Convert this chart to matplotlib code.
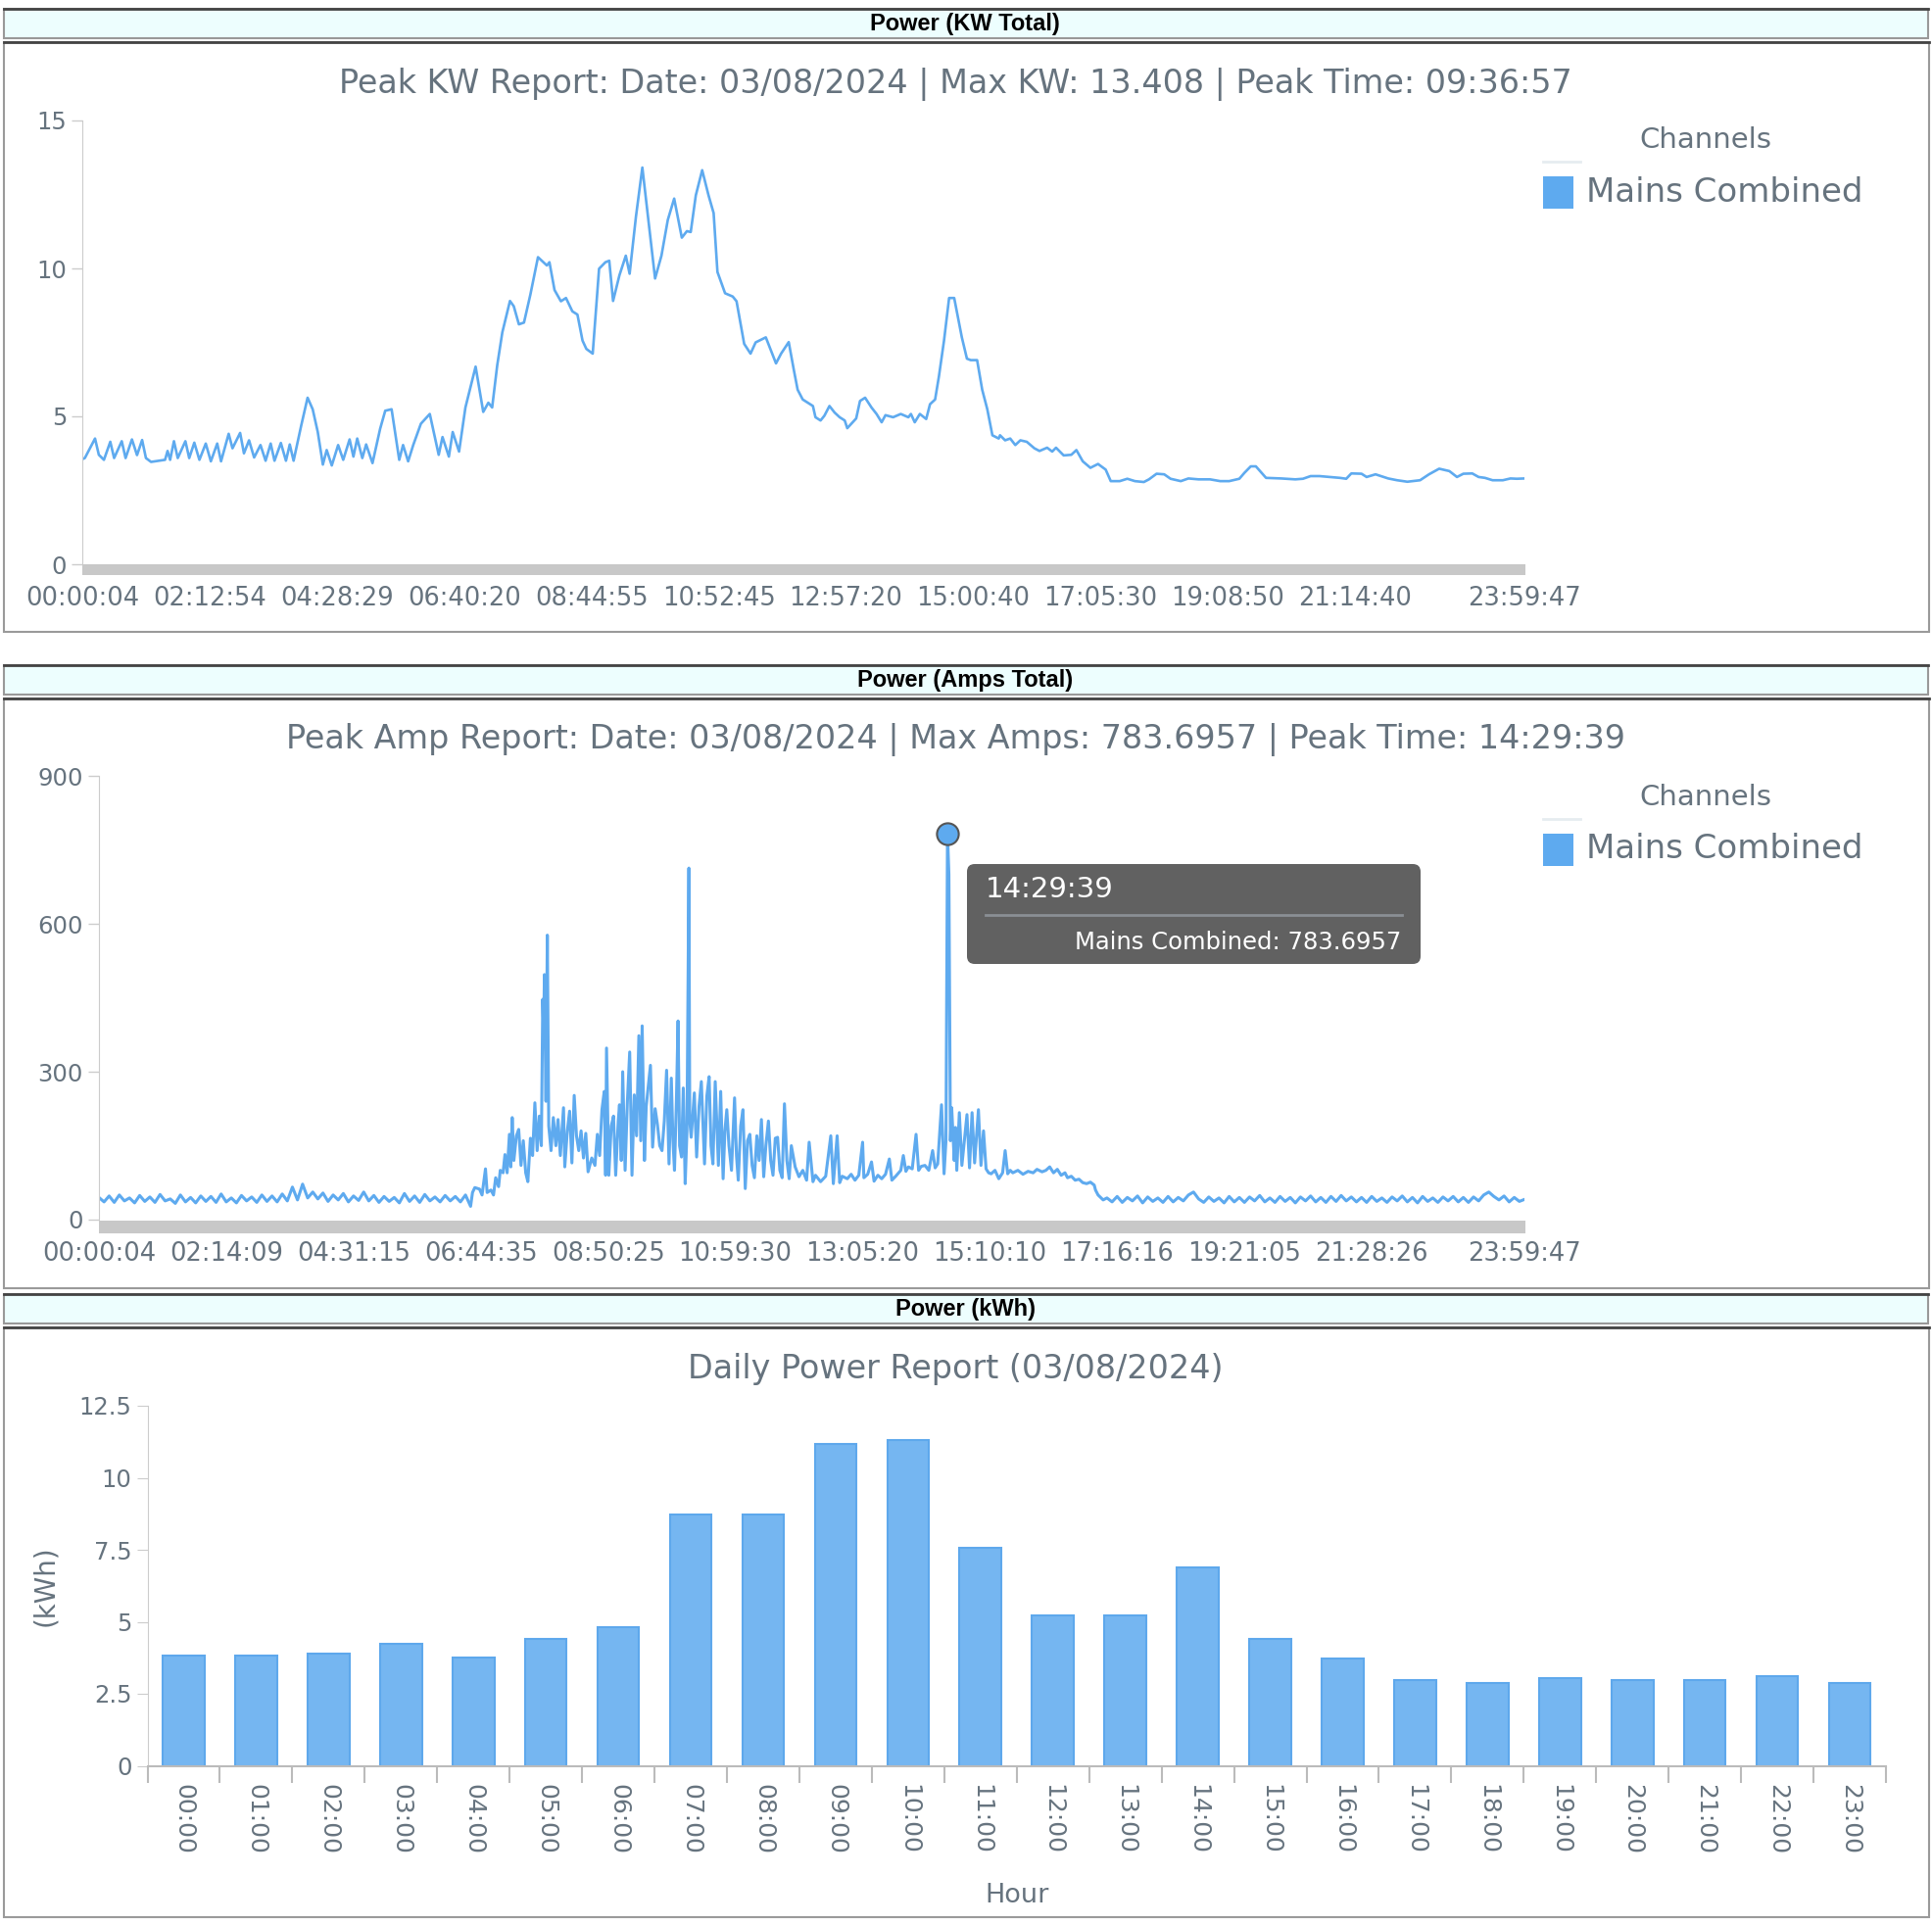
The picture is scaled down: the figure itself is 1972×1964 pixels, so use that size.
import matplotlib
matplotlib.use("Agg")
import matplotlib.pyplot as plt
from matplotlib.patches import Rectangle, FancyBboxPatch
import numpy as np

# ---- data ----
kw_ticks = [0, 100, 200, 300, 400, 500, 600, 700, 800, 900, 1000, 1133]
kw_tick_labels = ["00:00:04", "02:12:54", "04:28:29", "06:40:20", "08:44:55", "10:52:45",
                  "12:57:20", "15:00:40", "17:05:30", "19:08:50", "21:14:40", "23:59:47"]
kw_idx = [0, 2, 10, 13, 17, 22, 25, 31, 34, 39, 43, 47, 50, 54, 65, 67, 69, 72, 75, 81,
          84, 88, 92, 97, 101, 106, 109, 115, 118, 124, 127, 131, 135, 140, 144, 148, 151, 156, 160, 163,
          166, 172, 177, 181, 185, 189, 192, 196, 201, 205, 210, 213, 216, 220, 223, 228, 234, 238, 243, 249,
          252, 256, 260, 266, 273, 280, 283, 288, 291, 296, 301, 309, 315, 319, 322, 326, 330, 336, 339, 343,
          347, 352, 358, 365, 367, 371, 376, 380, 385, 389, 393, 396, 401, 406, 411, 414, 417, 422, 427, 430,
          435, 440, 445, 450, 455, 460, 465, 471, 475, 478, 482, 487, 492, 496, 499, 505, 511, 514, 520, 525,
          529, 537, 545, 549, 555, 559, 562, 566, 570, 574, 576, 580, 583, 587, 591, 595, 599, 601, 608, 611,
          615, 620, 624, 628, 631, 637, 643, 649, 651, 654, 658, 663, 666, 670, 673, 677, 681, 685, 688, 691,
          695, 698, 703, 707, 711, 715, 720, 721, 725, 729, 733, 737, 742, 748, 752, 758, 762, 765, 771, 777,
          781, 786, 792, 798, 804, 808, 815, 821, 827, 834, 838, 844, 850, 855, 863, 869, 877, 886, 894, 901,
          909, 913, 918, 922, 930, 942, 953, 959, 965, 972, 980, 988, 993, 997, 1005, 1009, 1016, 1026, 1033, 1041,
          1051, 1058, 1066, 1074, 1080, 1085, 1092, 1097, 1102, 1108, 1116, 1122, 1127, 1133]
kw_val = [3.55, 3.59, 4.25, 3.70, 3.53, 4.14, 3.59, 4.16, 3.59, 4.22, 3.69, 4.20, 3.59, 3.46, 3.53, 3.83, 3.53, 4.16, 3.59, 4.16,
          3.59, 4.11, 3.53, 4.08, 3.48, 4.08, 3.48, 4.41, 3.92, 4.44, 3.75, 4.19, 3.61, 4.03, 3.50, 4.08, 3.50, 4.10, 3.50, 4.05,
          3.50, 4.69, 5.63, 5.24, 4.47, 3.37, 3.86, 3.34, 4.03, 3.53, 4.22, 3.64, 4.25, 3.59, 4.05, 3.42, 4.58, 5.19, 5.24, 3.53,
          4.03, 3.48, 4.03, 4.75, 5.08, 3.70, 4.30, 3.64, 4.47, 3.81, 5.30, 6.68, 5.15, 5.46, 5.30, 6.73, 7.84, 8.90, 8.72, 8.11,
          8.17, 9.11, 10.38, 10.10, 10.21, 9.27, 8.89, 9.00, 8.55, 8.44, 7.56, 7.28, 7.12, 9.99, 10.21, 10.26, 8.90, 9.77, 10.43, 9.82,
          11.76, 13.41, 11.53, 9.66, 10.43, 11.64, 12.36, 11.04, 11.26, 11.23, 12.47, 13.32, 12.47, 11.87, 9.88, 9.16, 9.05, 8.89, 7.45, 7.12,
          7.50, 7.67, 6.79, 7.12, 7.51, 6.57, 5.90, 5.57, 5.46, 5.35, 4.97, 4.86, 5.02, 5.35, 5.13, 4.97, 4.86, 4.60, 4.93, 5.52,
          5.63, 5.30, 5.08, 4.80, 5.04, 4.97, 5.08, 4.97, 5.08, 4.80, 5.08, 4.91, 5.41, 5.57, 6.35, 7.56, 9.00, 9.00, 8.33, 7.67,
          6.95, 6.90, 6.90, 5.90, 5.24, 4.36, 4.25, 4.36, 4.19, 4.25, 4.03, 4.19, 4.14, 3.92, 3.83, 3.94, 3.81, 3.94, 3.68, 3.70,
          3.86, 3.48, 3.26, 3.39, 3.20, 2.81, 2.81, 2.89, 2.81, 2.78, 2.87, 3.06, 3.04, 2.89, 2.81, 2.90, 2.87, 2.87, 2.81, 2.81,
          2.89, 3.09, 3.31, 3.31, 2.92, 2.90, 2.87, 2.89, 2.98, 2.98, 2.95, 2.92, 2.89, 3.07, 3.06, 2.95, 3.04, 2.90, 2.84, 2.79,
          2.84, 3.04, 3.23, 3.15, 2.95, 3.06, 3.07, 2.95, 2.92, 2.84, 2.84, 2.90, 2.89, 2.90]

amp_ticks = [0, 100, 200, 300, 400, 500, 600, 700, 800, 900, 1000, 1120]
amp_tick_labels = ["00:00:04", "02:14:09", "04:31:15", "06:44:35", "08:50:25", "10:59:30",
                   "13:05:20", "15:10:10", "17:16:16", "19:21:05", "21:28:26", "23:59:47"]
# quiet night readings, one every 4 samples from sample 0
amps_early = [45, 36, 48, 35, 50, 38, 44, 34, 49, 37, 46, 35, 51, 38, 42, 33, 50, 36, 45, 34,
              48, 37, 47, 35, 52, 36, 44, 34, 49, 38, 46, 35, 50, 37, 48, 36, 52, 38, 66, 40,
              72, 44, 56, 42, 54, 37, 50, 40, 53, 36, 48, 39, 56, 38, 49, 35, 47, 37, 45, 34,
              53, 37, 48, 35, 51, 38, 46, 36, 49, 38, 47, 36, 50, 27]
# busy part of the day
amps_busy_idx = [293.5, 295.3, 299.0, 301.0, 303.7, 305.0, 308.0, 310.0, 311.7, 314.0, 315.3, 317.5, 319.0, 320.7, 322.5, 323.6,
                 324.7, 326.0, 328.0, 329.8, 331.6, 333.4, 335.3, 337.0, 339.0, 340.7, 342.5, 344.3, 346.0, 347.6, 348.7, 349.4,
                 350.0, 351.2, 352.3, 353.4, 355.2, 357.0, 359.0, 360.7, 362.5, 365.0, 366.0, 368.0, 369.8, 371.6, 373.4, 375.2,
                 377.0, 378.8, 380.7, 382.5, 384.3, 387.2, 389.7, 391.6, 393.4, 395.2, 397.0, 398.1, 398.8, 400.6, 402.5, 404.3,
                 406.0, 408.0, 409.0, 410.4, 411.5, 413.4, 415.2, 417.0, 418.8, 420.6, 422.4, 424.2, 425.7, 426.8, 428.6, 430.0,
                 431.5, 433.3, 435.0, 437.0, 438.8, 440.6, 442.4, 444.2, 446.0, 447.9, 449.7, 451.0, 452.2, 453.7, 455.0, 456.2,
                 457.7, 459.1, 460.6, 462.0, 463.5, 464.2, 465.3, 467.8, 469.6, 471.5, 473.3, 475.8, 477.6, 479.4, 480.9, 482.4,
                 484.2, 486.7, 488.5, 490.4, 491.8, 493.3, 495.0, 497.0, 499.4, 500.9, 502.3, 504.2, 506.0, 507.8, 509.6, 511.4,
                 513.2, 515.0, 516.9, 518.7, 520.5, 522.3, 524.0, 526.0, 527.8, 529.6, 531.4, 533.2, 535.0, 536.8, 538.6, 540.5,
                 542.3, 544, 547, 550, 553, 556, 558, 561, 563, 567, 571, 575, 577, 580, 582, 584,
                 588, 591, 594, 597, 600, 601, 604, 607, 609, 612, 615, 618, 621, 623, 626, 630,
                 632, 634, 636, 639, 642, 644, 646, 649, 652, 655, 657, 659, 662, 664, 665.5, 666.7,
                 667.8, 669, 670, 672, 673, 674, 676, 678, 682, 684, 686, 688, 691, 693, 695, 697,
                 699, 701, 704, 707, 710, 712, 714, 716, 718, 722, 726, 730, 734, 737, 741, 744,
                 747, 750, 753, 756, 759, 761, 764, 767, 770, 773, 776, 779, 782, 783, 785, 787, 789]
amps_busy_val = [55, 65, 62, 50, 103, 55, 60, 50, 85, 67, 100, 95, 132, 95, 173, 107,
                 207, 120, 170, 183, 110, 160, 95, 77, 165, 130, 237, 140, 210, 150, 447, 380,
                 497, 240, 577, 190, 140, 207, 150, 203, 130, 227, 107, 180, 220, 115, 252, 170,
                 140, 180, 125, 175, 97, 125, 110, 173, 130, 223, 260, 90, 348, 90, 190, 210,
                 90, 200, 233, 120, 300, 100, 240, 340, 90, 253, 170, 373, 160, 393, 120, 230,
                 267, 313, 147, 225, 193, 150, 140, 200, 303, 113, 287, 160, 100, 240, 403, 150,
                 127, 267, 73, 180, 713, 200, 167, 257, 127, 230, 280, 113, 250, 290, 150, 113,
                 280, 110, 260, 83, 180, 223, 150, 100, 247, 130, 80, 190, 223, 63, 160, 173,
                 110, 85, 170, 120, 203, 87, 150, 200, 120, 90, 165, 167, 100, 85, 235, 120,
                 83, 150, 107, 87, 100, 80, 157, 77, 90, 77, 88, 170, 73, 170, 75, 88,
                 83, 92, 80, 90, 157, 85, 92, 117, 78, 90, 83, 92, 123, 80, 88, 100,
                 130, 98, 107, 103, 173, 100, 108, 110, 100, 140, 105, 113, 233, 93, 160, 783.6957,
                 700, 160, 227, 120, 187, 100, 217, 110, 213, 105, 217, 115, 223, 110, 180, 103,
                 95, 93, 100, 83, 95, 140, 93, 100, 95, 100, 92, 98, 95, 102, 97, 100,
                 107, 95, 102, 90, 95, 85, 88, 80, 82, 75, 73, 76, 70, 60, 50, 45, 40]
# evening readings, one every 4 samples from sample 792
amps_late = [44, 36, 47, 35, 45, 38, 48, 34, 46, 37, 44, 35, 47, 36, 45, 38, 50, 56, 42, 35,
             46, 37, 44, 34, 47, 36, 45, 35, 46, 38, 49, 36, 44, 35, 47, 37, 45, 34, 46, 38,
             48, 36, 45, 35, 47, 37, 49, 38, 46, 36, 45, 35, 47, 37, 44, 35, 46, 38, 48, 36,
             45, 34, 47, 37, 44, 35, 46, 38, 47, 36, 45, 35, 46, 38, 50, 56, 47, 40, 48, 36,
             45, 37, 41]
peak_amp_idx = 666.7
peak_amp = 783.6957

hours = ["%02d:00" % h for h in range(24)]
kwh = [3.84, 3.84, 3.90, 4.25, 3.77, 4.39, 4.80, 8.74, 8.74, 11.17, 11.31, 7.58,
       5.21, 5.21, 6.90, 4.40, 3.72, 2.96, 2.89, 3.03, 2.96, 2.96, 3.10, 2.89]

# ---- layout helpers (pixel coords, origin top-left) ----
W, H = 1972, 1964
TXT = "#66737e"
BLUE = "#5eaaef"

fig = plt.figure(figsize=(W / 100, H / 100), dpi=100)
fig.patch.set_facecolor("white")


def fx(x):
    return x / W


def fy(y):
    return 1 - y / H


def rect(x0, y0, x1, y1, **kw):
    r = Rectangle((fx(x0), fy(y1)), (x1 - x0) / W, (y1 - y0) / H,
                  transform=fig.transFigure, **kw)
    fig.add_artist(r)
    return r


def hline(x0, x1, y, color, lw):
    fig.add_artist(plt.Line2D([fx(x0), fx(x1)], [fy(y), fy(y)], color=color, lw=lw,
                              transform=fig.transFigure, zorder=-4))


def axes_px(x0, y0, x1, y1):
    ax = fig.add_axes([fx(x0), fy(y1), (x1 - x0) / W, (y1 - y0) / H])
    ax.set_facecolor("none")
    return ax


def header(y0, y1, text):
    rect(4, y0, 1968, y1, facecolor="#edfefe", edgecolor="#999999", lw=1.5, zorder=-5)
    hline(4, 1968, y0, "#444444", 2)
    fig.text(fx(985), fy((y0 + y1) / 2), text, ha="center", va="center",
             fontsize=17, fontweight="bold", family="Liberation Sans", color="black")


def panel(y0, y1):
    rect(4, y0, 1969, y1, facecolor="white", edgecolor="#9a9a9a", lw=1.5, zorder=-5)
    hline(4, 1969, y0, "#444444", 2)


def legend(y):
    fig.text(fx(1741), fy(y), "Channels", ha="center", va="center", fontsize=21, color=TXT)
    hline(1575, 1613, y + 22, "#e6ecf0", 2)
    rect(1575, y + 37, 1606, y + 70, facecolor=BLUE, edgecolor="none", zorder=2)
    fig.text(fx(1619), fy(y + 53), "Mains Combined", ha="left", va="center",
             fontsize=24.5, color=TXT)


def style_line_axes(ax):
    for s in ("top", "right", "bottom"):
        ax.spines[s].set_visible(False)
    ax.spines["left"].set_color("#cccccc")
    ax.tick_params(axis="y", colors="#cccccc", labelcolor=TXT, labelsize=17.5, length=8, width=1)
    ax.tick_params(axis="x", length=0, labelcolor=TXT, labelsize=18.5, pad=16)


# ---- Panel 1: KW ----
header(9, 39, "Power (KW Total)")
panel(43, 645)
fig.text(fx(975), fy(86), "Peak KW Report: Date: 03/08/2024 | Max KW: 13.408 | Peak Time: 09:36:57",
         ha="center", va="center", fontsize=24, color=TXT)
legend(143)
ax1 = axes_px(84, 123, 1556, 576)
ax1.plot(kw_idx, kw_val, color=BLUE, lw=1.9)
ax1.set_xlim(0, kw_ticks[-1])
ax1.set_ylim(0, 15)
ax1.set_yticks([0, 5, 10, 15])
ax1.set_xticks(kw_ticks)
ax1.set_xticklabels(kw_tick_labels)
style_line_axes(ax1)
rect(84, 576, 1557, 587, facecolor="#c8c8c8", edgecolor="none", zorder=2)

# ---- Panel 2: Amps ----
header(679, 709, "Power (Amps Total)")
panel(713, 1315)
fig.text(fx(975), fy(755), "Peak Amp Report: Date: 03/08/2024 | Max Amps: 783.6957 | Peak Time: 14:29:39",
         ha="center", va="center", fontsize=24, color=TXT)
legend(814)
ax2 = axes_px(101, 792, 1556, 1245)
amp_x = list(np.arange(len(amps_early)) * 4) + amps_busy_idx + list(792 + np.arange(len(amps_late)) * 4)
amp_y = amps_early + amps_busy_val + amps_late
ax2.plot(amp_x, amp_y, color=BLUE, lw=2.2)
ax2.plot([peak_amp_idx], [peak_amp], marker="o", ms=16, mfc=BLUE, mec="#555555", mew=1.5,
         clip_on=False, zorder=4)
ax2.set_xlim(0, amp_ticks[-1])
ax2.set_ylim(0, 900)
ax2.set_yticks([0, 300, 600, 900])
ax2.set_xticks(amp_ticks)
ax2.set_xticklabels(amp_tick_labels)
style_line_axes(ax2)
rect(101, 1246, 1557, 1259, facecolor="#c8c8c8", edgecolor="none", zorder=2)

# tooltip
tip = FancyBboxPatch((fx(987), fy(984)), (1450 - 987) / W, (984 - 882) / H,
                     boxstyle="round,pad=0,rounding_size=0.004", transform=fig.transFigure,
                     facecolor="#616161", edgecolor="none", zorder=5)
fig.add_artist(tip)
fig.text(fx(1006), fy(908), "14:29:39", ha="left", va="center", fontsize=21, color="white", zorder=6)
fig.add_artist(plt.Line2D([fx(1006), fx(1431)], [fy(934), fy(934)], color="#8a8f94", lw=2,
                          transform=fig.transFigure, zorder=6))
fig.text(fx(1430), fy(962), "Mains Combined: %.4f" % peak_amp, ha="right", va="center",
         fontsize=17.5, color="white", zorder=6)

# ---- Panel 3: kWh bars ----
header(1321, 1351, "Power (kWh)")
panel(1355, 1957)
fig.text(fx(975), fy(1398), "Daily Power Report (03/08/2024)", ha="center", va="center",
         fontsize=24, color=TXT)
ax3 = axes_px(150.5, 1435, 1925, 1802.5)
pos = np.arange(len(hours))
ax3.bar(pos, kwh, width=0.577, color="#75b6f1", edgecolor="#5ea8ec", lw=1.5)
ax3.set_xlim(-0.5, len(hours) - 0.5)
ax3.set_ylim(0, 12.5)
ax3.set_yticks([0, 2.5, 5, 7.5, 10, 12.5])
ax3.set_yticklabels(["0", "2.5", "5", "7.5", "10", "12.5"])
ax3.set_xticks(pos)
ax3.set_xticklabels(hours, rotation=-90, ha="center", va="top")
ax3.set_xticks(np.arange(-0.5, len(hours)), minor=True)
for s in ("top", "right"):
    ax3.spines[s].set_visible(False)
ax3.spines["left"].set_color("#cccccc")
ax3.spines["bottom"].set_color("#bbbbbb")
ax3.spines["bottom"].set_linewidth(1.5)
ax3.tick_params(axis="y", colors="#cccccc", labelcolor=TXT, labelsize=17.5, length=8)
ax3.tick_params(axis="x", which="major", length=0, labelcolor=TXT, labelsize=18, pad=13)
ax3.tick_params(axis="x", which="minor", length=12, color="#bbbbbb", width=1.5)
ax3.set_ylabel("(kWh)", fontsize=20, color=TXT)
ax3.yaxis.set_label_coords(-0.051, 0.5)
ax3.set_xlabel("Hour", fontsize=19.5, color=TXT)
ax3.xaxis.set_label_coords(0.5, -0.325)

fig.savefig("out.png", dpi=100)
